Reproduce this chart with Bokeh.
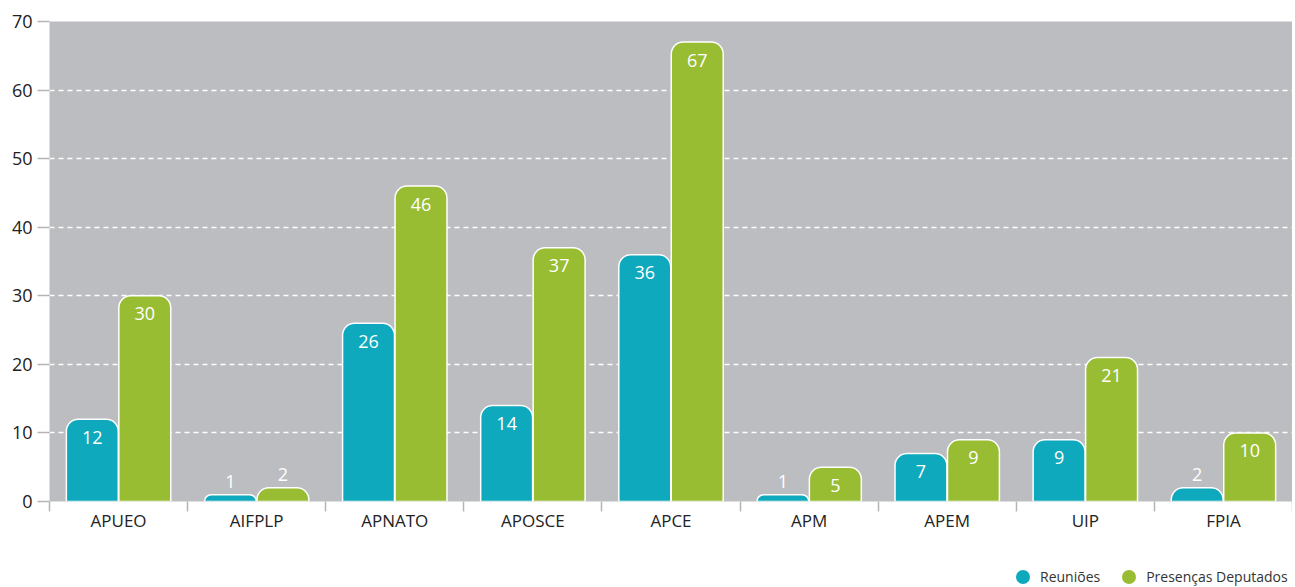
from bokeh.plotting import figure
from bokeh.layouts import column
from bokeh.models import (ColumnDataSource, FixedTicker, Range1d, Legend, LegendItem)
from bokeh.core.properties import value
from bokeh.embed import file_html
from bokeh.resources import INLINE

categories = ["APUEO", "AIFPLP", "APNATO", "APOSCE", "APCE", "APM", "APEM", "UIP", "FPIA"]
reunioes = [12, 1, 26, 14, 36, 1, 7, 9, 2]
presencas = [30, 2, 46, 37, 67, 5, 9, 21, 10]
series_names = ["Reuniões", "Presenças Deputados"]
y_ticks = [0, 10, 20, 30, 40, 50, 60, 70]

TEAL = "#0EA9BC"
GREEN = "#98BD33"
BG = "#BCBDC1"
FONT = "Open Sans"

n = len(categories)
centers = [i + 0.5 for i in range(n)]
off = 0.19
bw = 0.376

p = figure(frame_width=1243, frame_height=480, output_backend="svg", toolbar_location=None,
           x_range=Range1d(0, n), y_range=Range1d(0, 70),
           min_border_left=49, min_border_right=0, min_border_top=21, min_border_bottom=43)
p.background_fill_color = BG
p.border_fill_color = "white"
p.outline_line_color = None

src_r = ColumnDataSource(dict(x=[c - off for c in centers], top=reunioes,
                              lab=[str(v) for v in reunioes],
                              yo=[18 if v >= 3 else -13 for v in reunioes]))
src_p = ColumnDataSource(dict(x=[c + off for c in centers], top=presencas,
                              lab=[str(v) for v in presencas],
                              yo=[18 if v >= 3 else -13 for v in presencas]))

r1 = p.vbar(x="x", top="top", bottom=0, width=bw, source=src_r, fill_color=TEAL,
            line_color="white", line_width=1.5, border_radius=(12, 12, 0, 0))
r2 = p.vbar(x="x", top="top", bottom=0, width=bw, source=src_p, fill_color=GREEN,
            line_color="white", line_width=1.5, border_radius=(12, 12, 0, 0))

for src in (src_r, src_p):
    p.text(x="x", y="top", text="lab", y_offset="yo", source=src,
           text_align="center", text_baseline="middle", text_color="white",
           text_font=value(FONT), text_font_size="18px")

# axes
p.xaxis.ticker = FixedTicker(ticks=centers, minor_ticks=list(range(n + 1)))
p.xaxis.major_label_overrides = {c: cat for c, cat in zip(centers, categories)}
p.xaxis.major_tick_out = 0
p.xaxis.major_tick_in = 0
p.xaxis.minor_tick_out = 10
p.xaxis.minor_tick_in = 0
p.xaxis.minor_tick_line_color = "#B5B5B5"
p.xaxis.minor_tick_line_width = 1.5
p.xaxis.axis_line_color = None
p.xaxis.major_label_text_font = FONT
p.xaxis.major_label_text_font_size = "17px"
p.xaxis.major_label_text_color = "#222222"
p.xaxis.major_label_standoff = -3

p.yaxis.ticker = FixedTicker(ticks=y_ticks)
p.yaxis.major_tick_out = 12
p.yaxis.major_tick_in = 0
p.yaxis.minor_tick_line_color = None
p.yaxis.major_tick_line_color = "#B5B5B5"
p.yaxis.major_tick_line_width = 1.5
p.yaxis.axis_line_color = None
p.yaxis.major_label_text_font = FONT
p.yaxis.major_label_text_font_size = "18px"
p.yaxis.major_label_text_color = "#222222"
p.yaxis.major_label_standoff = 5

p.xgrid.grid_line_color = None
p.ygrid.ticker = FixedTicker(ticks=[10, 20, 30, 40, 50, 60])
p.ygrid.grid_line_color = "white"
p.ygrid.grid_line_dash = "5 4"
p.ygrid.grid_line_width = 1.5

# legend strip below the chart
lg = figure(width=1292, height=43, output_backend="svg", toolbar_location=None,
            x_range=Range1d(0, 1), y_range=Range1d(0, 1),
            x_axis_location=None, y_axis_location=None,
            min_border=0)
lg.xgrid.grid_line_color = None
lg.ygrid.grid_line_color = None
lg.outline_line_color = None
lg.background_fill_color = "white"
nan = float("nan")
l1 = lg.scatter(x=[nan], y=[nan], marker="circle", size=15, fill_color=TEAL, line_color=None)
l2 = lg.scatter(x=[nan], y=[nan], marker="circle", size=15, fill_color=GREEN, line_color=None)
legend = Legend(items=[LegendItem(label=series_names[0], renderers=[l1], index=0),
                       LegendItem(label=series_names[1], renderers=[l2], index=0)],
                orientation="horizontal", location=(956, -7),
                border_line_color=None, background_fill_alpha=0,
                label_text_font=FONT, label_text_font_size="14px",
                label_text_color="#333333", glyph_width=35, glyph_height=35,
                label_standoff=0, spacing=11, margin=0, padding=2)
lg.add_layout(legend, "center")

layout = column(p, lg, spacing=0)
open("out.html", "w").write(file_html(layout, INLINE))
